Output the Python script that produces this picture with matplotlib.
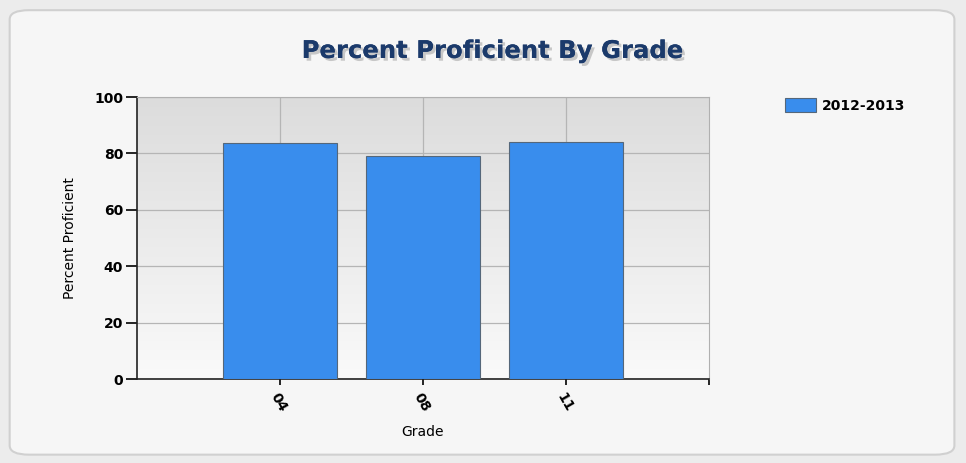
import numpy as np
import matplotlib.pyplot as plt
from matplotlib.patches import FancyBboxPatch
from matplotlib.colors import LinearSegmentedColormap
import matplotlib.patheffects as pe

grades = ['04', '08', '11']
pct_2012_2013 = [83.7, 79.1, 84.0]
series_name = '2012-2013'
yticks = [0, 20, 40, 60, 80, 100]

bar_color = '#398ded'
title_color = '#1b3a6b'

fig = plt.figure(figsize=(9.66, 4.63), dpi=100)
fig.patch.set_facecolor('#ececec')

# rounded panel behind everything
panel = FancyBboxPatch((0.01, 0.018), 0.978, 0.96,
                       boxstyle='round,pad=0,rounding_size=0.02',
                       transform=fig.transFigure, facecolor='#f6f6f6',
                       edgecolor='#d0d0d0', linewidth=1.5, zorder=-10)
fig.patches.append(panel)

ax = fig.add_axes([0.1418, 0.1814, 0.592, 0.609])
ax.set_zorder(2)
x = np.arange(len(grades))

# gradient background in plot area
grad = np.linspace(0, 1, 256).reshape(-1, 1)
cmap = LinearSegmentedColormap.from_list('g', ['#fafafa', '#dcdcdc'])
ax.imshow(grad, extent=[-1, 3, 0, 100], aspect='auto', cmap=cmap,
          origin='lower', zorder=0)

ax.bar(x, pct_2012_2013, width=0.8, color=bar_color, edgecolor='#55677a',
       linewidth=0.8, label=series_name, zorder=3)

ax.set_xlim(-1, 3)
ax.set_ylim(0, 100)
ax.set_xticks(x)
ax.set_xticklabels(grades, rotation=-60, ha='left', rotation_mode='anchor',
                   fontsize=10, fontweight='bold')
ax.set_yticks(yticks)
ax.set_yticklabels([str(v) for v in yticks], fontsize=10, fontweight='bold')
ax.grid(True, color='#b5b5b5', linewidth=0.9, zorder=1)
ax.set_axisbelow(True)

for s in ['top', 'right']:
    ax.spines[s].set_color('#b0b0b0')
ax.spines['left'].set_color('#222222')
ax.spines['bottom'].set_color('#222222')
ax.spines['left'].set_linewidth(1.2)
ax.spines['bottom'].set_linewidth(1.2)
ax.tick_params(axis='y', length=8, width=1.2, direction='out', pad=2)
ax.tick_params(axis='x', length=4, width=1.2, direction='out', pad=4)

# extra tick at right end of x axis
ax.set_xticks([3], minor=True)
ax.tick_params(axis='x', which='minor', length=4, width=1.2)

ax.set_ylabel('Percent Proficient', fontsize=10, labelpad=12)
ax.set_xlabel('Grade', fontsize=10, labelpad=8)

fig.text(0.509, 0.89, 'Percent Proficient By Grade', ha='center', va='center',
         fontsize=17.5, fontweight='bold', color=title_color,
         path_effects=[pe.withSimplePatchShadow(offset=(2, -2), shadow_rgbFace='#999999', alpha=0.5), pe.Normal()])

fig.legend(loc='upper left', bbox_to_anchor=(0.8, 0.815), frameon=False,
           prop={'weight': 'bold', 'size': 10}, handlelength=2.2, handleheight=1.2,
           handletextpad=0.4)

fig.savefig('out.png', dpi=100, facecolor=fig.get_facecolor())
